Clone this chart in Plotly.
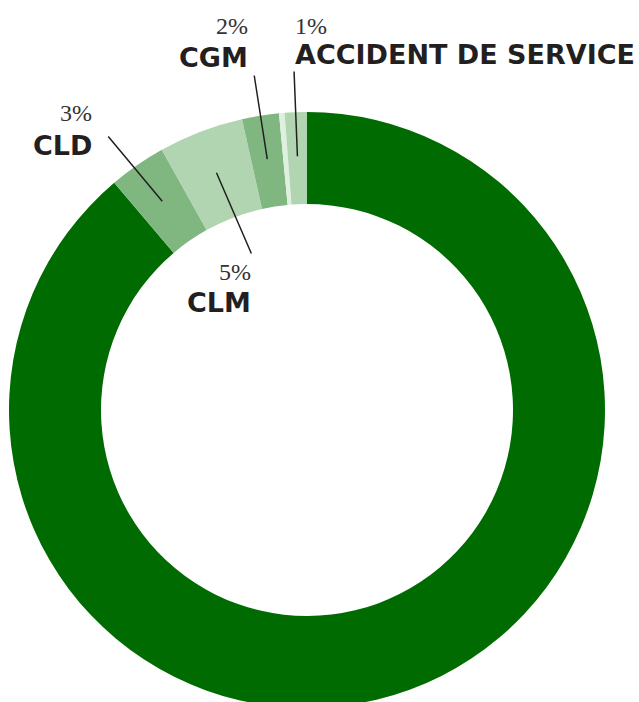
import math
import plotly.graph_objects as go

# ---- data (clockwise from 12 o'clock) ----
labels = ["CMO", "CLD", "CLM", "CGM", "AUTRE", "ACCIDENT DE SERVICE"]
values = [88.8, 3.1, 4.6, 2.0, 0.3, 1.2]
pct_text = ["", "3%", "5%", "2%", "", "1%"]
colors = ["#006b00", "#80b780", "#b1d4b1", "#80b780", "#dff0df", "#b1d4b1"]

# ---- layout constants (pixels) ----
W, H = 639, 720
CX, CY = 307, 410
R_OUT = 298
R_MID = 254

# label placement: (text anchor x, pct y, name y, xanchor, line end x, line end y)
label_pos = {
    "ACCIDENT DE SERVICE": (293, 26, 54, "left", 294, 70),
    "CGM": (250, 26, 57, "right", 254, 74),
    "CLM": (253, 272, 302, "right", 252, 255),
    "CLD": (94, 113, 145, "right", 107, 135),
}

fig = go.Figure()
fig.add_trace(go.Pie(
    labels=labels, values=values, sort=False, direction="clockwise",
    rotation=0, hole=206 / 298, textinfo="none", hoverinfo="label+percent",
    marker=dict(colors=colors, line=dict(width=0)),
    domain=dict(x=[(CX - R_OUT) / W, (CX + R_OUT) / W],
                y=[1 - (CY + R_OUT) / H, 1 - (CY - R_OUT) / H]),
    showlegend=False,
))

total = sum(values)
cum = 0.0
annotations = []
for lab, v, pt in zip(labels, values, pct_text):
    mid = (cum + v / 2) / total * 2 * math.pi
    cum += v
    if lab not in label_pos:
        continue
    tx, py, ny, xa, lx, ly = label_pos[lab]
    px_ = CX + R_MID * math.sin(mid)
    py_ = CY - R_MID * math.cos(mid)
    # leader line (drawn above the pie)
    annotations.append(dict(x=px_, y=py_, ax=lx, ay=ly, xref="x", yref="y",
                            axref="x", ayref="y", text="", showarrow=True,
                            arrowhead=0, arrowwidth=1.5, arrowcolor="#231f20",
                            standoff=0, startstandoff=0))
    annotations.append(dict(x=tx, y=py, text=pt, showarrow=False, xanchor=xa,
                            yanchor="middle", xref="x", yref="y",
                            font=dict(family="Liberation Serif", size=24, color="#333333")))
    annotations.append(dict(x=tx, y=ny, text="<b>" + lab + "</b>", showarrow=False,
                            xanchor=xa, yanchor="middle", xref="x", yref="y",
                            font=dict(family="DejaVu Sans", size=27, color="#231f20")))

fig.update_layout(
    width=W, height=H, margin=dict(l=0, r=0, t=0, b=0),
    paper_bgcolor="white", plot_bgcolor="rgba(0,0,0,0)",
    xaxis=dict(range=[0, W], visible=False, fixedrange=True),
    yaxis=dict(range=[H, 0], visible=False, fixedrange=True),
    annotations=annotations,
)
fig.write_html(
    "out.html",
    config={"displayModeBar": False},
    post_script="document.body.style.margin='0';"
                "document.documentElement.style.overflow='hidden';"
                "document.body.style.overflow='hidden';",
)
